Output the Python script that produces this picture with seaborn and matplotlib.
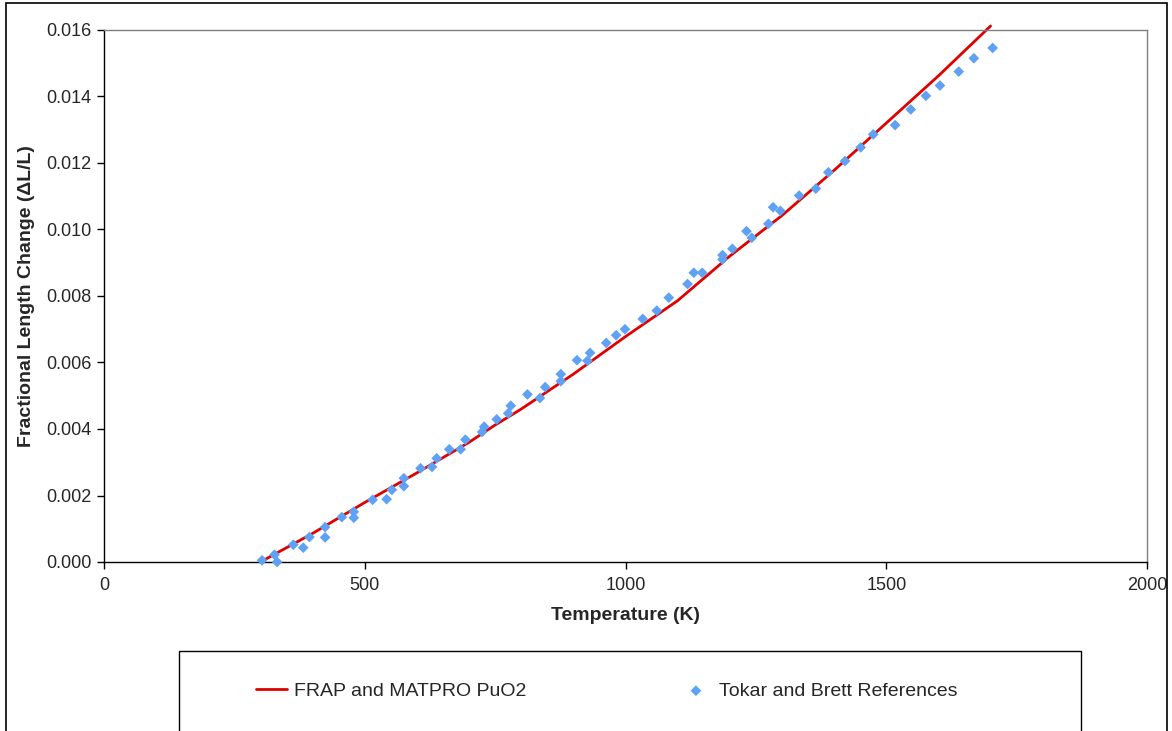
import matplotlib
matplotlib.use("Agg")
import matplotlib.pyplot as plt
import matplotlib.patches as mpatches
import seaborn as sns
import pandas as pd
from matplotlib.ticker import FormatStrFormatter

# ---- data ----
line_T = [300, 400, 500, 600, 700, 750, 800, 900, 1000, 1100, 1200, 1300, 1400, 1500, 1600, 1700]
line_dL = [0.0, 0.00086, 0.00179, 0.00268, 0.00360, 0.00412, 0.00460, 0.00565, 0.00678, 0.00786,
           0.00920, 0.01042, 0.01178, 0.01320, 0.01462, 0.01612]

pts_T = [303, 327, 332, 363, 382, 394, 424, 424, 456, 479, 479, 515, 542, 552, 575, 575, 607, 629,
         638, 662, 684, 693, 725, 729, 753, 775, 780, 812, 836, 846, 876, 876, 907, 927, 932, 963,
         982, 999, 1033, 1060, 1083, 1119, 1131, 1147, 1186, 1186, 1205, 1232, 1242, 1274, 1283,
         1297, 1333, 1365, 1389, 1421, 1451, 1475, 1517, 1547, 1576, 1603, 1639, 1668, 1704]
pts_dL = [0.00005, 0.00022, 0.00000, 0.00052, 0.00043, 0.00075, 0.00105, 0.00074, 0.00135, 0.00151,
          0.00133, 0.00187, 0.00189, 0.00217, 0.00252, 0.00228, 0.00282, 0.00286, 0.00312, 0.00339,
          0.00339, 0.00368, 0.00391, 0.00407, 0.00429, 0.00447, 0.00470, 0.00504, 0.00493, 0.00526,
          0.00565, 0.00544, 0.00607, 0.00605, 0.00629, 0.00659, 0.00682, 0.00700, 0.00731, 0.00756,
          0.00795, 0.00836, 0.00870, 0.00870, 0.00923, 0.00910, 0.00942, 0.00995, 0.00975, 0.01017,
          0.01067, 0.01056, 0.01102, 0.01123, 0.01172, 0.01206, 0.01247, 0.01286, 0.01314, 0.01361,
          0.01402, 0.01433, 0.01475, 0.01515, 0.01546]

line_label = "FRAP and MATPRO PuO2"
pts_label = "Tokar and Brett References"
x_ticks = [0, 500, 1000, 1500, 2000]
y_ticks = [0.000, 0.002, 0.004, 0.006, 0.008, 0.010, 0.012, 0.014, 0.016]

# ---- style ----
sns.set_style("white")
plt.rcParams['font.family'] = ['Liberation Sans', 'DejaVu Sans']

W, H = 1172, 731
fig = plt.figure(figsize=(W / 100, H / 100), dpi=100)
ax = fig.add_axes([104 / W, 1 - 562 / H, (1147 - 104) / W, (562 - 30) / H])

df_line = pd.DataFrame({"T": line_T, "dL": line_dL})
df_pts = pd.DataFrame({"T": pts_T, "dL": pts_dL})

sns.lineplot(data=df_line, x="T", y="dL", ax=ax, color="#E00000", linewidth=2.0,
             label=line_label, clip_on=False, zorder=2)
sns.scatterplot(data=df_pts, x="T", y="dL", ax=ax, marker="D", s=30, color="#5FA2F5",
                edgecolor="none", label=pts_label, zorder=3, clip_on=False)

ax.set_xlim(0, 2000)
ax.set_ylim(0, 0.016)
ax.set_xticks(x_ticks)
ax.set_yticks(y_ticks)
ax.yaxis.set_major_formatter(FormatStrFormatter('%.3f'))
ax.tick_params(axis='both', which='major', direction='out', length=5, width=1,
               color='black', labelsize=13, left=True, bottom=True)
ax.tick_params(axis='x', pad=6)
ax.tick_params(axis='y', pad=4)

for s in ['left', 'bottom']:
    ax.spines[s].set_color('black')
    ax.spines[s].set_linewidth(1.0)
for s in ['top', 'right']:
    ax.spines[s].set_color('#808080')
    ax.spines[s].set_linewidth(1.0)

ax.set_xlabel("Temperature (K)", fontsize=14, fontweight='bold', labelpad=9)
ax.set_ylabel("Fractional Length Change (ΔL/L)", fontsize=14, fontweight='bold', labelpad=8)
ax.grid(False)

# legend
handles, labels = ax.get_legend_handles_labels()
ax.get_legend().remove()
leg = fig.legend(handles, labels, loc='center left', ncol=2, frameon=False,
                 bbox_to_anchor=(238 / W, 1 - 691 / H), fontsize=14,
                 handlelength=1.6, handletextpad=0.4, columnspacing=7.9)

# legend frame
fig.add_artist(mpatches.Rectangle((179 / W, 1 - 745 / H), (1081 - 179) / W, (745 - 651) / H,
                                  transform=fig.transFigure, fill=False, edgecolor='black',
                                  linewidth=1.0))
# outer chart border
fig.add_artist(mpatches.Rectangle((6 / W, 1 - 760 / H), (1167 - 6) / W, (760 - 3) / H,
                                  transform=fig.transFigure, fill=False, edgecolor='black',
                                  linewidth=1.2))

fig.savefig("out.png", dpi=100)
